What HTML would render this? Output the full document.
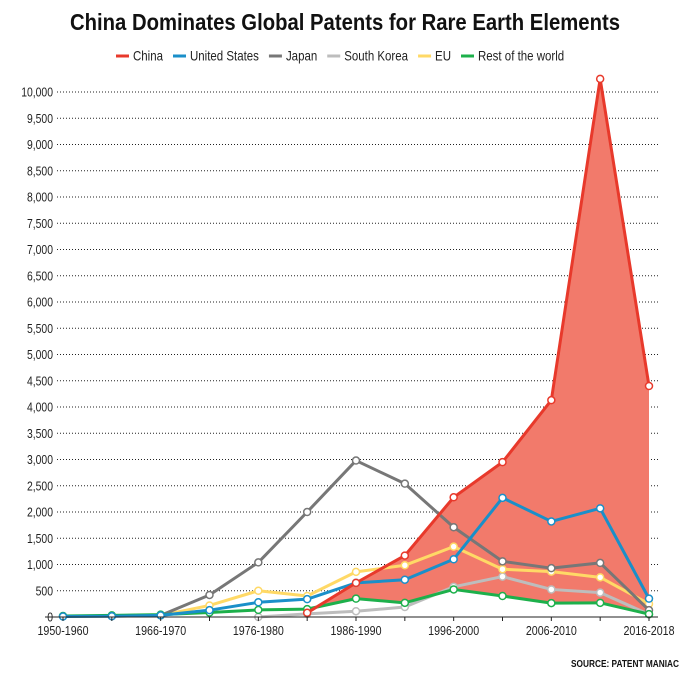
<!DOCTYPE html>
<html><head><meta charset="utf-8"><style>
body{margin:0;background:#fff;}
svg text{font-family:"Liberation Sans",sans-serif;}
</style></head><body>
<svg id="chart" width="691" height="680" xmlns="http://www.w3.org/2000/svg">
<text id="title" x="345" y="30" text-anchor="middle" font-size="23" font-weight="bold" fill="#111" textLength="550" lengthAdjust="spacingAndGlyphs">China Dominates Global Patents for Rare Earth Elements</text>
<g id="legend"></g>
<g id="grid"></g>
<g id="fill"></g>
<g id="series"></g>
<g id="xaxis"></g>
<text id="src" x="679" y="667" text-anchor="end" font-size="10" font-weight="bold" fill="#111" textLength="108" lengthAdjust="spacingAndGlyphs">SOURCE: PATENT MANIAC</text>
</svg>
<script>
const categories=["1950-1960","1961-1965","1966-1970","1971-1975","1976-1980","1981-1985","1986-1990","1991-1995","1996-2000","2001-2005","2006-2010","2011-2015","2016-2018"];
const xLabels=["1950-1960","1966-1970","1976-1980","1986-1990","1996-2000","2006-2010","2016-2018"];
const yTicks=[0,500,1000,1500,2000,2500,3000,3500,4000,4500,5000,5500,6000,6500,7000,7500,8000,8500,9000,9500,10000];
const china=[null,null,null,null,null,80,650,1170,2280,2950,4130,10250,4400];
const us=[10,15,30,130,280,340,650,710,1100,2270,1820,2070,350];
const japan=[null,null,30,420,1040,2000,2980,2540,1710,1060,930,1030,130];
const korea=[null,null,null,null,0,60,110,190,575,770,525,465,50];
const eu=[null,null,30,220,500,400,860,985,1340,910,865,755,250];
const rest=[20,30,45,85,135,150,350,270,525,400,265,270,55];
const seriesNames=["China","United States","Japan","South Korea","EU","Rest of the world"];
const NS="http://www.w3.org/2000/svg";
const X0=63,X1=649,Y0=617,PER=0.0525;
const xs=i=>X0+(X1-X0)*i/(categories.length-1);
const ys=v=>Y0-v*PER;
function mk(tag,attrs,parent){const e=document.createElementNS(NS,tag);for(const k in attrs)e.setAttribute(k,attrs[k]);parent.appendChild(e);return e;}
function narrow(t,f){const w=t.getComputedTextLength();t.setAttribute('textLength',(w*f).toFixed(1));t.setAttribute('lengthAdjust','spacingAndGlyphs');return w*f;}
const grid=document.getElementById('grid');
yTicks.forEach(t=>{
  const l=mk('line',{x1:57,x2:658,y1:ys(t),y2:ys(t),stroke:'#222','stroke-width':1,'stroke-dasharray':'1,2'},grid);
  
  
  const tx=mk('text',{x:53,y:ys(t)+4.5,'text-anchor':'end','font-size':13,fill:'#222'},grid);
  tx.textContent=t.toLocaleString('en-US');
  
  
  narrow(tx,0.8);
});
const xa=document.getElementById('xaxis');
const ax=mk('line',{x1:45,x2:658,y1:Y0,y2:Y0,stroke:'#222','stroke-width':1},xa);


categories.forEach((c,i)=>{
  const tk=mk('line',{x1:xs(i),x2:xs(i),y1:Y0,y2:Y0+4,stroke:'#222'},xa);
  
  
  if(xLabels.includes(c)){
    const t=mk('text',{x:xs(i),y:Y0+18,'text-anchor':'middle','font-size':13,fill:'#222'},xa);
    t.textContent=c;
    
    
    narrow(t,0.82);
  }
});
const f=document.getElementById('fill');
let pts=[];
china.forEach((v,i)=>{if(v!==null)pts.push(xs(i)+','+ys(v));});
for(let i=rest.length-1;i>=0;i--){if(china[i]!==null)pts.push(xs(i)+','+ys(rest[i]));}
const poly=mk('polygon',{points:pts.join(' '),fill:'#f27a6b'},f);


const colors=["#e8392b","#1a8fc9","#777777","#bdbdbd","#ffd966","#1db04b"];
const data=[china,us,japan,korea,eu,rest];
const sg=document.getElementById('series');
const order=[3,4,2,5,1,0];
order.forEach(si=>{
  const d=data[si];let p=[];
  d.forEach((v,i)=>{if(v!==null)p.push(xs(i)+','+ys(v));});
  const g=mk('g',{},sg);
  
  
  const pl=mk('polyline',{points:p.join(' '),fill:'none',stroke:colors[si],'stroke-width':3,'stroke-linejoin':'round'},g);
  
  
  d.forEach((v,i)=>{if(v===null)return;
    const c=mk('circle',{cx:xs(i),cy:ys(v),r:3.5,fill:'#fff',stroke:colors[si],'stroke-width':1.5},g);
    
    
  });
});
const lg=document.getElementById('legend');
let lx=116;
seriesNames.forEach((n,i)=>{
  const l=mk('line',{x1:lx,x2:lx+13,y1:56,y2:56,stroke:colors[i],'stroke-width':3},lg);
  
  
  const t=mk('text',{x:lx+17,y:60.5,'font-size':14,fill:'#222'},lg);
  t.textContent=n;
  
  
  lx+=17+narrow(t,0.82)+10;
});
</script>
</body></html>
